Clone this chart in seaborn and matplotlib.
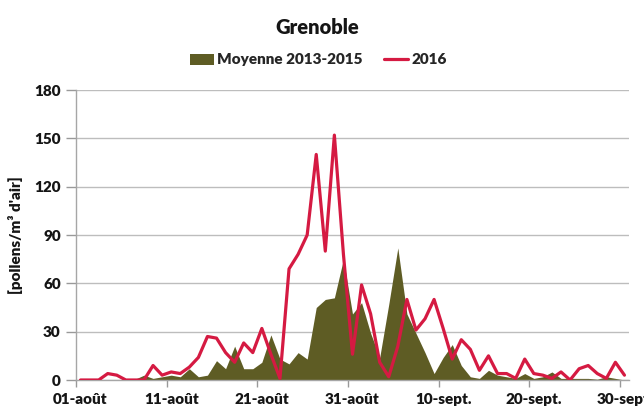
import numpy as np
import pandas as pd
import matplotlib
matplotlib.use("Agg")
import matplotlib.pyplot as plt
from matplotlib.patches import Patch
from matplotlib.lines import Line2D
import seaborn as sns

# daily values, 01-août .. 30-sept.
moyenne_2013_2015 = [0, 0, 0, 0, 0, 0, 0.5, 3, 1, 2,
                     3, 2, 7, 2, 3, 12, 7, 21, 7, 7,
                     11, 28, 13, 10, 17, 13, 45, 50, 51, 75,
                     41, 48, 29, 14, 47, 82, 41, 29, 17, 4,
                     14, 22, 9, 2, 1, 6, 3, 2, 1, 4,
                     1, 2, 5, 1, 1, 1, 1, 0.5, 2, 1,
                     0]
pollen_2016 = [0, 0, 0, 4, 3, 0, 0, 0, 9, 3,
               5, 4, 8, 14, 27, 26, 17, 11, 23, 17,
               32, 16, 1, 69, 78, 90, 140, 80, 152, 78,
               16, 59, 41, 11, 2, 21, 50, 31, 38, 50,
               32, 13, 25, 19, 6, 15, 4, 4, 1, 13,
               4, 3, 1, 5, 0, 7, 9, 4, 1, 11,
               3]
tick_labels = ["01-août", "11-août", "21-août", "31-août",
               "10-sept.", "20-sept.", "30-sept."]
y_ticks = [0, 30, 60, 90, 120, 150, 180]

OLIVE = "#5e5c24"
RED = "#d51a42"
TXT = "#151515"
W = 'heavy'

sns.set_theme(style="white")
plt.rcParams['font.family'] = ['Lato', 'DejaVu Sans']
plt.rcParams['font.weight'] = 'bold'

df = pd.DataFrame({"jour": np.arange(len(pollen_2016)),
                   "moyenne": moyenne_2013_2015,
                   "p2016": pollen_2016})

fig = plt.figure(figsize=(6.44, 4.13), dpi=100)
ax = fig.add_axes([76/644, 1-380/413, (629-76)/644, (380-90)/413])

ax.fill_between(df["jour"], 0, df["moyenne"], color=OLIVE, linewidth=0, zorder=2)
sns.lineplot(data=df, x="jour", y="p2016", color=RED, linewidth=2.3, ax=ax, zorder=3)

ax.set_xlim(-0.5, len(df) - 0.5)
ax.set_ylim(0, 180)
ax.set_yticks(y_ticks)
ax.set_yticklabels([str(v) for v in y_ticks], fontsize=11, fontweight=W, color=TXT)
ax.set_xticks(np.arange(0, len(df), 10))
ax.set_xticklabels(tick_labels, fontsize=11, fontweight=W, color=TXT)
ax.set_xticks(np.arange(0, len(df), 10) - 0.5, minor=True)
ax.tick_params(axis='x', which='major', length=0, pad=9)
ax.tick_params(axis='x', which='minor', length=5, color='#999999', width=1, direction='out', bottom=True)
ax.tick_params(axis='y', length=7, color='#999999', width=1, direction='out', left=True, pad=4)

ax.yaxis.grid(True, color='#bdbdbd', linewidth=1, zorder=0)
ax.set_axisbelow(True)
for s in ['top', 'right']:
    ax.spines[s].set_visible(False)
for s in ['left', 'bottom']:
    ax.spines[s].set_color('#a6a6a6')
    ax.spines[s].set_linewidth(1)

ax.set_xlabel("")
ax.set_ylabel("[pollens/m³ d'air]", fontsize=11, fontweight=W, color=TXT, labelpad=8)

fig.text(0.493, 1 - 27/413, "Grenoble", ha='center', va='center',
         fontsize=14.5, fontweight=W, color=TXT)

handles = [Patch(facecolor=OLIVE, edgecolor='none', label="Moyenne 2013-2015"),
           Line2D([0], [0], color=RED, linewidth=2.3, label="2016")]
fig.legend(handles=handles, loc='center', bbox_to_anchor=(0.494, 1 - 60/413), ncol=2,
           frameon=False, handlelength=1.6, handletextpad=0.2,
           columnspacing=1.4, prop={'weight': W, 'size': 11})

fig.savefig("out.png", dpi=100)
